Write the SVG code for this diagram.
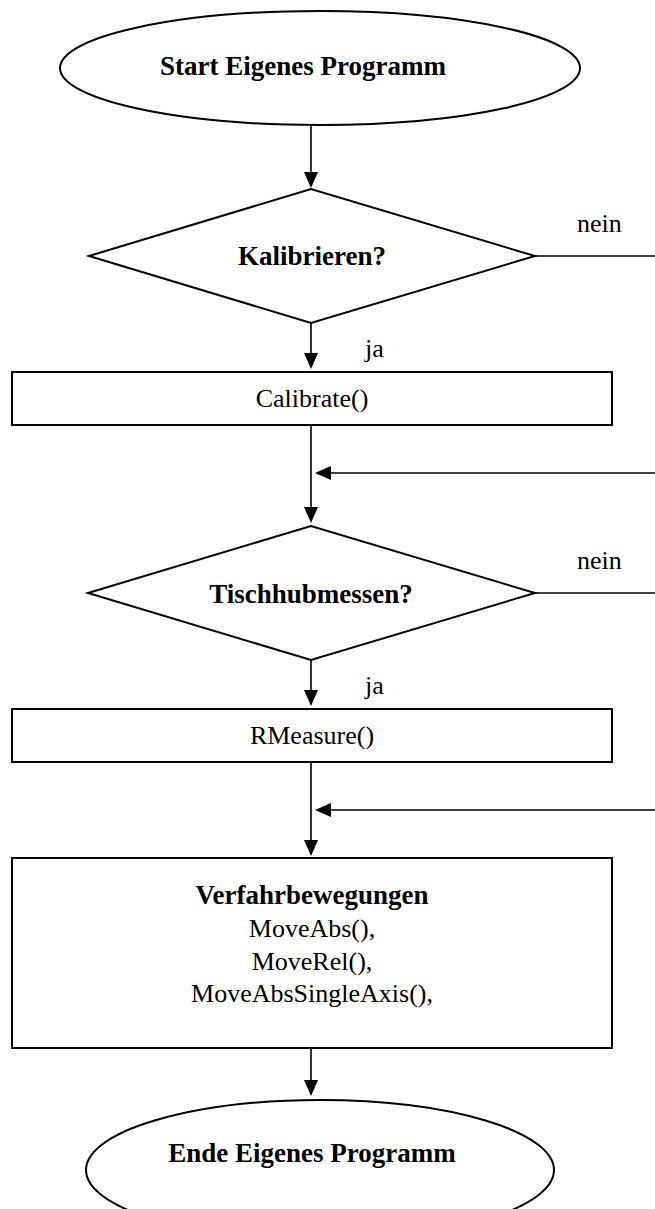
<svg xmlns="http://www.w3.org/2000/svg" width="655" height="1209" viewBox="0 0 655 1209">
  <style>
    .shape { fill: #ffffff; stroke: #000000; stroke-width: 2; }
    .conn { fill: none; stroke: #000000; stroke-width: 1.6; }
    .head { fill: #000000; stroke: none; }
    .b { font-family: "Liberation Serif", serif; font-weight: bold; font-size: 27px; fill: #000000; }
    .r { font-family: "Liberation Serif", serif; font-size: 26px; fill: #000000; }
    .mid { text-anchor: middle; }
  </style>
  <rect x="0" y="0" width="655" height="1209" fill="#ffffff"/>

  <g id="start">
    <ellipse class="shape" cx="320" cy="68" rx="260" ry="57"/>
    <text class="b mid" x="303" y="75">Start Eigenes Programm</text>
  </g>

  <g id="kalibrieren">
    <polygon class="shape" points="89,256 311,189 535,256 311,323"/>
    <text class="b mid" x="312" y="265">Kalibrieren?</text>
  </g>

  <g id="calibrate">
    <rect class="shape" x="12" y="372" width="600" height="53"/>
    <text class="r mid" x="312" y="407">Calibrate()</text>
  </g>

  <g id="tischhub">
    <polygon class="shape" points="88,593 311,526 535,593 311,660"/>
    <text class="b mid" x="311" y="603">Tischhubmessen?</text>
  </g>

  <g id="rmeasure">
    <rect class="shape" x="12" y="709" width="600" height="53"/>
    <text class="r mid" x="312" y="744">RMeasure()</text>
  </g>

  <g id="verfahr">
    <rect class="shape" x="12" y="858" width="600" height="190"/>
    <text class="b mid" x="312" y="904">Verfahrbewegungen</text>
    <text class="r mid" x="312" y="937">MoveAbs(),</text>
    <text class="r mid" x="312" y="970">MoveRel(),</text>
    <text class="r mid" x="312" y="1002">MoveAbsSingleAxis(),</text>
  </g>

  <g id="ende">
    <ellipse class="shape" cx="320" cy="1170" rx="234" ry="70"/>
    <text class="b mid" x="312" y="1162">Ende Eigenes Programm</text>
  </g>

  <g id="connectors">
    <!-- start to first decision -->
    <line class="conn" x1="311" y1="125" x2="311" y2="174"/>
    <polygon class="head" points="304,172 318,172 311,188"/>
    <!-- kalibrieren: ja / nein -->
    <line class="conn" x1="311" y1="323" x2="311" y2="355"/>
    <polygon class="head" points="304,353 318,353 311,369"/>
    <text class="r" x="365" y="357">ja</text>
    <line class="conn" x1="535" y1="256" x2="655" y2="256"/>
    <text class="r" x="577" y="232">nein</text>
    <!-- calibrate to second decision, with bypass joining -->
    <line class="conn" x1="311" y1="425" x2="311" y2="509"/>
    <polygon class="head" points="304,507 318,507 311,523"/>
    <line class="conn" x1="655" y1="473" x2="329" y2="473"/>
    <polygon class="head" points="315,473 331,466 331,480"/>
    <!-- tischhubmessen: ja / nein -->
    <line class="conn" x1="311" y1="660" x2="311" y2="692"/>
    <polygon class="head" points="304,690 318,690 311,706"/>
    <text class="r" x="365" y="694">ja</text>
    <line class="conn" x1="535" y1="593" x2="655" y2="593"/>
    <text class="r" x="577" y="569">nein</text>
    <!-- rmeasure to movements, with bypass joining -->
    <line class="conn" x1="311" y1="762" x2="311" y2="842"/>
    <polygon class="head" points="304,840 318,840 311,856"/>
    <line class="conn" x1="655" y1="810" x2="329" y2="810"/>
    <polygon class="head" points="315,810 331,803 331,817"/>
    <!-- movements to end -->
    <line class="conn" x1="311" y1="1048" x2="311" y2="1082"/>
    <polygon class="head" points="304,1080 318,1080 311,1096"/>
  </g>
</svg>
